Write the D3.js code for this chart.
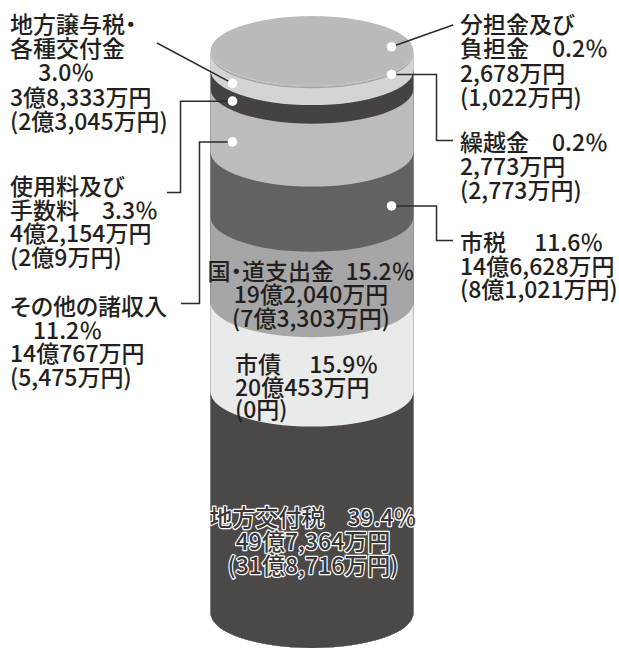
<!DOCTYPE html>
<html><head><meta charset="utf-8">
<script src="https://cdn.jsdelivr.net/npm/d3@7"></script>
<style>
html,body{margin:0;padding:0;background:#fff;}
svg{display:block;}
text{font-family:"Noto Sans CJK JP","Noto Sans",sans-serif;font-weight:500;font-feature-settings:"palt";}
</style></head>
<body>
<script>
// ---- data ----
const categories = ["分担金及び負担金","繰越金","地方譲与税・各種交付金","使用料及び手数料","その他の諸収入","市税","国・道支出金","市債","地方交付税"];
const shares = [0.2, 0.2, 3.0, 3.3, 11.2, 11.6, 15.2, 15.9, 39.4];
const amounts = ["2,678万円","2,773万円","3億8,333万円","4億2,154万円","14億767万円","14億6,628万円","19億2,040万円","20億453万円","49億7,364万円"];
const prevAmounts = ["1,022万円","2,773万円","2億3,045万円","2億9万円","5,475万円","8億1,021万円","7億3,303万円","0円","31億8,716万円"];
const nameLines = [["分担金及び","負担金"],["繰越金"],["地方譲与税・","各種交付金"],["使用料及び","手数料"],["その他の諸収入"],["市税"],["国・道支出金"],["市債"],["地方交付税"]];

// ---- styles / layout ----
const colors = ["#bababa","#a3a3a3","#d4d4d4","#474242","#bcbcbc","#626262","#a6a6a6","#e9eaea","#4b4848"];
const W = 619, H = 649;
const cx = 312, rx = 101.5, ry = 35;
const yTop = 51, yBot = 613;
const fs = 23;

const svg = d3.select("body").append("svg").attr("width", W).attr("height", H);
const y = d3.scaleLinear().domain([0, 100]).range([yTop, yBot]);

const cum = [0];
shares.forEach((s, i) => cum.push(cum[i] + s));
const segs = shares.map((s, i) => ({i, s, y0: cum[i], y1: cum[i + 1]}));
const pct = i => shares[i].toFixed(1) + "％";
const prev = i => "(" + prevAmounts[i] + ")";

// body segments: drawn top-first, each extending to the cylinder bottom
function sidePath(a) {
  const ya = y(a), yb = y(100);
  return `M${cx - rx},${ya} A${rx},${ry} 0 0 0 ${cx + rx},${ya} L${cx + rx},${yb} A${rx},${ry} 0 0 1 ${cx - rx},${yb} Z`;
}
svg.append("g").selectAll("path").data(segs).join("path")
  .attr("d", d => sidePath(d.y0))
  .attr("fill", d => colors[d.i]);
// top cap
svg.append("ellipse").attr("cx", cx).attr("cy", y(0)).attr("rx", rx).attr("ry", ry)
  .attr("fill", colors[0]);

// front-arc y at given x for a boundary value
function arcY(v, x) {
  const t = (x - cx) / rx;
  return y(v) + ry * Math.sqrt(Math.max(0, 1 - t * t));
}
const xL = 232.5, xR = 391.5;
function dotPos(i, x) {
  if (i === 0) return [x, y(0) - ry * 0.12];
  const d = segs[i];
  return [x, (arcY(d.y0, x) + arcY(d.y1, x)) / 2];
}

// outside labels
const outside = [
  {i: 2, x: 10, y: 23, lh: 24.2, lines: [nameLines[2][0], nameLines[2][1], "\u3000 " + pct(2), amounts[2], prev(2)], dx: xL,
   leader: p => [[157, 43], p]},
  {i: 3, x: 10, y: 185, lh: 23.6, lines: [nameLines[3][0], nameLines[3][1] + "\u3000" + pct(3), amounts[3], prev(3)], dx: xL,
   leader: p => [[167, 192.5], [180.5, 192.5], [180.5, p[1]], p]},
  {i: 4, x: 10, y: 305, lh: 23.6, lines: [nameLines[4][0], "\u3000" + pct(4), amounts[4], prev(4)], dx: xL,
   leader: p => [[181, 303.5], [199.5, 303.5], [199.5, p[1]], p]},
  {i: 0, x: 460, y: 23, lh: 24.4, lines: [nameLines[0][0], nameLines[0][1] + "\u3000" + pct(0), amounts[0], prev(0)], dx: xR,
   leader: p => [[453, 25], p]},
  {i: 1, x: 460, y: 141, lh: 24, lines: [nameLines[1][0] + "\u3000" + pct(1), amounts[1], prev(1)], dx: xR,
   leader: p => [[453, 140.5], [436.5, 140.5], [436.5, p[1]], p]},
  {i: 5, x: 460, y: 241, lh: 23.6, lines: [nameLines[5][0] + "\u3000 " + pct(5), amounts[5], prev(5)], dx: xR,
   leader: p => [[453, 240.5], [436.5, 240.5], [436.5, p[1]], p]}
];

const line = d3.line();
outside.forEach(o => {
  const p = dotPos(o.i, o.dx);
  svg.append("path").attr("d", line(o.leader(p)))
    .attr("fill", "none").attr("stroke", "#2b2b2b").attr("stroke-width", 1.5);
  const t = svg.append("text").attr("font-size", fs).attr("fill", "#231f20");
  o.lines.forEach((s, k) => {
    t.append("tspan").attr("x", o.x).attr("y", o.y + k * o.lh).attr("dominant-baseline", "central").text(s);
  });
  svg.append("circle").attr("cx", p[0]).attr("cy", p[1]).attr("r", 4.8).attr("fill", "#fff");
});

// inside labels
const inside = [
  {x: 311, y: 270, lh: 23.4, anchor: "middle", lines: [nameLines[6][0] + "\u2002" + pct(6), amounts[6], prev(6)], fill: "#231f20"},
  {x: 235, y: 363, lh: 22.5, anchor: "start", lines: [nameLines[7][0] + "\u3000 " + pct(7), amounts[7], prev(7)], fill: "#231f20"},
  {x: 313, y: 516, lh: 23.8, anchor: "middle", lines: [nameLines[8][0] + "\u3000" + pct(8), amounts[8], prev(8)], fill: "#3a3636", outline: true}
];
inside.forEach(o => {
  const t = svg.append("text").attr("font-size", fs).attr("fill", o.fill).attr("text-anchor", o.anchor);
  if (o.outline) t.attr("stroke", "#fff").attr("stroke-width", 2.4).attr("paint-order", "stroke").attr("stroke-linejoin", "round");
  o.lines.forEach((s, k) => {
    t.append("tspan").attr("x", o.x).attr("y", o.y + k * o.lh).attr("dominant-baseline", "central").text(s);
  });
});
</script>
</body></html>
